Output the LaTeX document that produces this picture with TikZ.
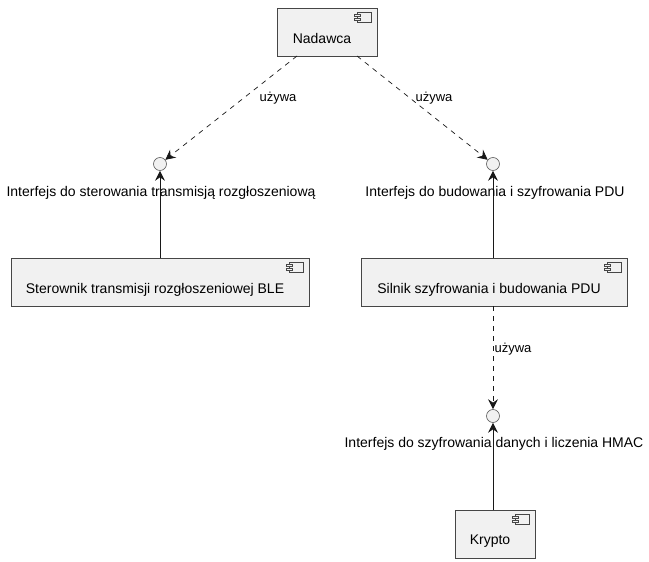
\documentclass[tikz,border=0pt]{standalone}
\usepackage{fontspec}
\setmainfont{Liberation Sans}
\usetikzlibrary{arrows.meta,calc}
\definecolor{boxfill}{HTML}{F1F1F1}
\definecolor{boxline}{HTML}{181818}
\tikzset{
  comp/.style={draw=boxline!80, fill=boxfill, line width=0.6pt, minimum height=48pt, inner sep=0pt},
  ctext/.style={font=\fontsize{14}{16}\selectfont, inner sep=0pt},
  iface/.style={circle, draw=boxline!70, fill=boxfill, line width=0.6pt, minimum size=13pt, inner sep=0pt},
  ilabel/.style={font=\fontsize{14}{16}\selectfont, inner sep=0pt},
  elabel/.style={font=\fontsize{13}{15}\selectfont, inner sep=0pt},
  uses/.style={draw=boxline, line width=0.7pt, dash pattern=on 5pt off 5pt, -{Stealth[length=10pt,width=10pt,inset=3.5pt]}},
  provides/.style={draw=boxline, line width=0.7pt, -{Stealth[length=10pt,width=10pt,inset=3.5pt]}},
}
\newcommand{\compicon}[1]{%
  \draw[boxline!80, line width=0.5pt, fill=boxfill] ($(#1.north east)+(-20pt,-5pt)$) rectangle ($(#1.north east)+(-6pt,-15pt)$);
  \draw[boxline!80, line width=0.5pt, fill=boxfill] ($(#1.north east)+(-23pt,-7pt)$) rectangle ($(#1.north east)+(-17pt,-9pt)$);
  \draw[boxline!80, line width=0.5pt, fill=boxfill] ($(#1.north east)+(-23pt,-11pt)$) rectangle ($(#1.north east)+(-17pt,-13pt)$);
}
\begin{document}
\begin{tikzpicture}[x=1pt,y=-1pt]
\useasboundingbox (0,0) rectangle (649,562);
% components
\node[comp, minimum width=100pt] (nad) at (327,32) {};
\node[ctext] (nadt) at (322,38) {Nadawca};
\node[comp, minimum width=298pt] (ster) at (160,282) {};
\node[ctext] (stert) at (155,290) {Sterownik transmisji rozgłoszeniowej BLE};
\node[comp, minimum width=266pt] (siln) at (494,282) {};
\node[ctext] (silnt) at (489,290) {Silnik szyfrowania i budowania PDU};
\node[comp, minimum width=80pt] (kry) at (495,534) {};
\node[ctext] (kryt) at (490,541) {Krypto};
\compicon{nad}
\compicon{ster}
\compicon{siln}
\compicon{kry}
% interfaces
\node[iface] (i1) at (160,164) {};
\node[iface] (i2) at (493,164) {};
\node[iface] (i3) at (493,416) {};
% connectors
\coordinate (n1) at (297,56);
\coordinate (n2) at (357,56);
\draw[uses] (n1) -- (i1);
\draw[uses] (n2) -- (i2);
\draw[uses] (siln.south -| i3) -- (i3);
\draw[provides] (ster.north -| i1) -- (i1);
\draw[provides] (siln.north -| i2) -- (i2);
\draw[provides] (kry.north -| i3) -- (i3);
% interface labels
\node[ilabel] (l1) at (161,193) {Interfejs do sterowania transmisją rozgłoszeniową};
\node[ilabel] (l2) at (495,193) {Interfejs do budowania i szyfrowania PDU};
\node[ilabel] (l3) at (494,444) {Interfejs do szyfrowania danych i liczenia HMAC};
% edge labels
\node[elabel] (u1) at (278,98) {używa};
\node[elabel] (u2) at (434,98) {używa};
\node[elabel] (u3) at (513,349) {używa};
\end{tikzpicture}
\end{document}
